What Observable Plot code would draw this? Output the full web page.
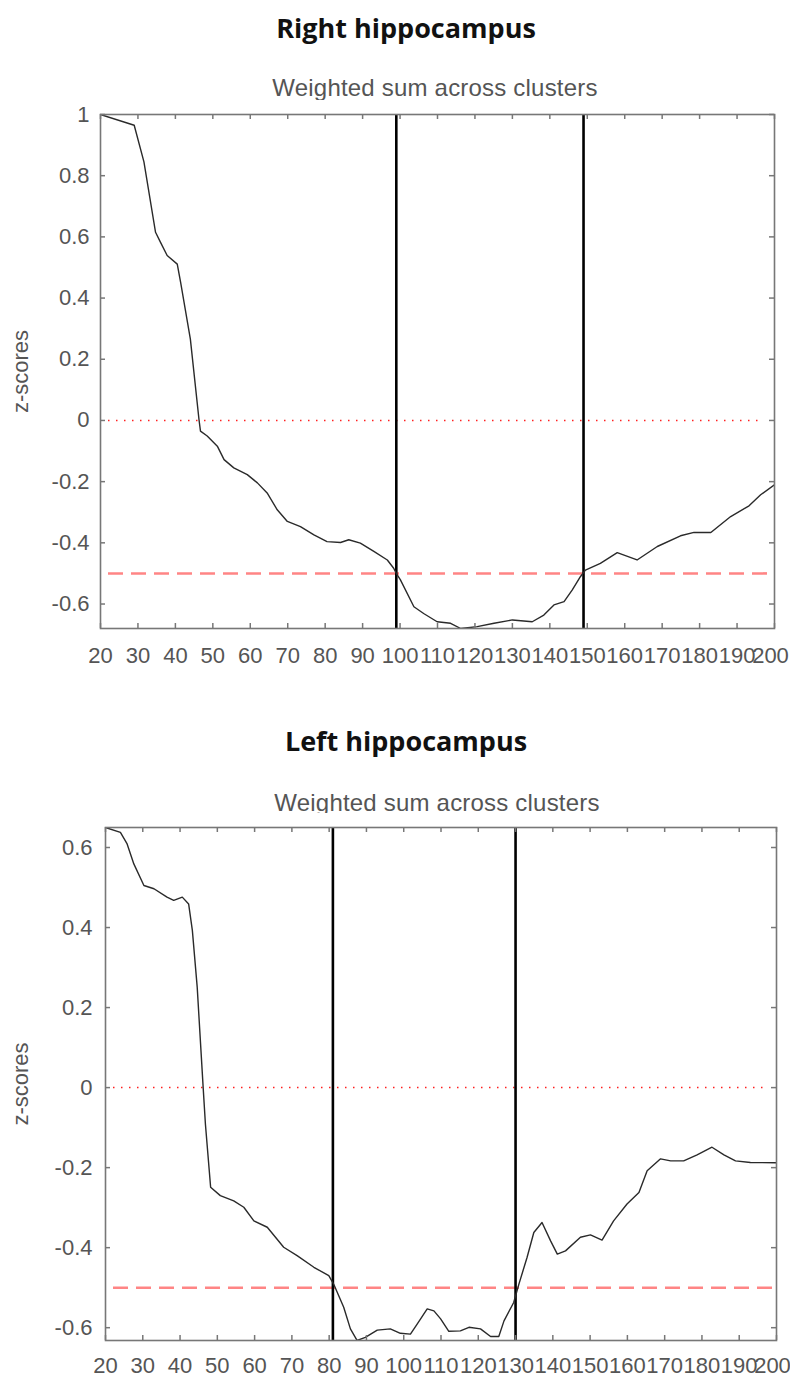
<!DOCTYPE html>
<html>
<head>
<meta charset="utf-8">
<script src="https://cdn.jsdelivr.net/npm/d3@7"></script>
<script src="https://cdn.jsdelivr.net/npm/@observablehq/plot@0.6"></script>
<style>
  html, body { margin: 0; padding: 0; background: #fff; }
  #page { position: relative; width: 790px; height: 1378px; overflow: hidden; }
  .title { position: absolute; transform: translateX(-50%); white-space: nowrap;
           font-family: "Open Sans", sans-serif; font-weight: 700; font-size: 27px; line-height: 27px; color: #111; }
  .subtitle { position: absolute; transform: translateX(-50%); white-space: nowrap;
              font-family: "Liberation Sans", Arial, sans-serif; font-size: 24px; line-height: 24px; color: #555; letter-spacing: 0.2px; }
  .chart { position: absolute; left: 0; }
</style>
</head>
<body>
<div id="page"></div>
<script>
// ---------- data ----------
const titles = ["Right hippocampus", "Left hippocampus"];
const subtitle = "Weighted sum across clusters";
const yLabel = "z-scores";

const xTicks = [20, 30, 40, 50, 60, 70, 80, 90, 100, 110, 120, 130, 140, 150, 160, 170, 180, 190, 200];
const rightYTicks = [-0.6, -0.4, -0.2, 0, 0.2, 0.4, 0.6, 0.8, 1];
const leftYTicks = [-0.6, -0.4, -0.2, 0, 0.2, 0.4, 0.6];

const rightX = [20, 29, 31.6, 34.7, 36, 37.8, 40.5, 41.4, 44, 46.3, 46.7, 48.5, 51.2, 53, 55.6, 59.2, 61.9, 64.5, 67.2, 69.9, 73.4, 77, 80.5, 84.1, 86.3, 89.4, 93, 96.6, 98.3, 99, 100.1, 103.7, 106.3, 109.9, 113.5, 116.2, 120.6, 125.1, 130, 135.3, 138.4, 141.1, 143.8, 146, 148.2, 149.5, 153.5, 158, 163.3, 168.7, 174.9, 178.5, 183, 188.3, 193.2, 196.3, 200];
const rightZ = [1.0, 0.965, 0.845, 0.615, 0.583, 0.539, 0.511, 0.451, 0.266, 0.003, -0.035, -0.051, -0.084, -0.128, -0.155, -0.177, -0.204, -0.237, -0.292, -0.33, -0.347, -0.374, -0.396, -0.399, -0.39, -0.401, -0.428, -0.456, -0.483, -0.5, -0.521, -0.609, -0.631, -0.658, -0.663, -0.68, -0.674, -0.663, -0.652, -0.658, -0.636, -0.603, -0.592, -0.554, -0.51, -0.489, -0.467, -0.432, -0.456, -0.412, -0.377, -0.366, -0.366, -0.314, -0.279, -0.243, -0.21];

const leftX = [20, 24, 25.8, 27.6, 30.3, 33, 36.5, 38.3, 40.6, 42.3, 43.3, 44.6, 46.2, 46.8, 48.2, 50.8, 54.4, 57.1, 59.8, 63.4, 67.8, 71.4, 75.9, 79.9, 81.2, 83.9, 85.7, 87.5, 89.7, 92.9, 96.4, 99.1, 101.8, 103.6, 106.3, 108.1, 109.9, 112.1, 115.2, 117.5, 120.6, 123.3, 125.5, 126.9, 129.5, 130.9, 133.1, 134.9, 137.1, 139.4, 141.2, 143.4, 147.4, 150.1, 153.2, 156.3, 159.9, 163.1, 165.3, 168.9, 171.6, 175.1, 178.7, 182.7, 185.9, 189, 193, 200];
const leftZ = [0.65, 0.638, 0.609, 0.559, 0.505, 0.497, 0.476, 0.468, 0.476, 0.459, 0.393, 0.251, 0, -0.091, -0.249, -0.27, -0.283, -0.299, -0.333, -0.349, -0.399, -0.42, -0.449, -0.47, -0.491, -0.549, -0.603, -0.632, -0.624, -0.606, -0.603, -0.614, -0.616, -0.591, -0.553, -0.558, -0.578, -0.609, -0.608, -0.599, -0.603, -0.622, -0.622, -0.583, -0.537, -0.491, -0.424, -0.362, -0.337, -0.383, -0.416, -0.408, -0.374, -0.368, -0.381, -0.333, -0.291, -0.262, -0.208, -0.178, -0.183, -0.183, -0.168, -0.149, -0.168, -0.183, -0.187, -0.188];

const rightBounds = [99, 149];
const leftBounds = [81, 130];
const zeroLine = [0];
const threshold = [-0.5];
const xDomain = [20, 200];
const rightYDomain = [-0.68, 1];
const leftYDomain = [-0.632, 0.65];

// ---------- drawing ----------
const page = document.getElementById("page");
const frameGray = "#777";
const labelGray = "#555";
const fmt = d => String(d); // ASCII hyphen, "0" and "1" as in the original

function addText(cls, text, cx, cy, size) {
  const d = document.createElement("div");
  d.className = cls;
  d.textContent = text;
  d.style.left = cx + "px";
  d.style.top = (cy - size / 2) + "px";
  page.appendChild(d);
}

function panel({top, height, mL, mR, mT, mB, xs, zs, yDomain, yTicks, bounds, yTickPad, labelOffset, xTickPad}) {
  const width = 790;
  const fw = width - mL - mR;
  const fh = height - mT - mB;
  const data = xs.map((x, i) => ({x, z: zs[i]}));
  const xMain = xTicks.slice(0, -1);
  const xLast = xTicks.slice(-1);
  const p = Plot.plot({
    width, height,
    marginLeft: mL, marginRight: mR, marginTop: mT, marginBottom: mB,
    style: {fontFamily: "'Liberation Sans', Arial, sans-serif", fontSize: "22px", background: "white", overflow: "visible"},
    x: {domain: xDomain, ticks: xTicks, label: null},
    y: {domain: yDomain, ticks: yTicks, label: null},
    marks: [
      Plot.ruleY(zeroLine, {y: d => d, stroke: "#ff2020", strokeWidth: 1.5, strokeDasharray: "1.5,6.5", insetLeft: 8, insetRight: 10}),
      Plot.ruleY(threshold, {y: d => d, stroke: "#ff8585", strokeWidth: 2.6, strokeDasharray: "15,8", insetLeft: 8}),
      Plot.ruleX(bounds, {x: d => d, stroke: "#000", strokeWidth: 2.6}),
      Plot.line(data, {x: "x", y: "z", stroke: "#2a2a2a", strokeWidth: 1.4, clip: true}),
      // inward ticks on all four sides
      Plot.tickX(xTicks, {x: d => d, stroke: frameGray, strokeWidth: 1.5, insetTop: fh - 5}),
      Plot.tickX(xTicks, {x: d => d, stroke: frameGray, strokeWidth: 1.5, insetBottom: fh - 5}),
      Plot.tickY(yTicks, {y: d => d, stroke: frameGray, strokeWidth: 1.5, insetRight: fw - 5}),
      Plot.tickY(yTicks, {y: d => d, stroke: frameGray, strokeWidth: 1.5, insetLeft: fw - 5}),
      Plot.axisX(xMain, {anchor: "bottom", tickSize: 0, tickPadding: xTickPad, fill: labelGray, label: null, tickFormat: fmt}),
      Plot.axisX(xLast, {anchor: "bottom", tickSize: 0, tickPadding: xTickPad, fill: labelGray, label: null, tickFormat: fmt, dx: -4}),
      Plot.axisY(yTicks, {anchor: "left", tickSize: 0, tickPadding: yTickPad, fill: labelGray, tickFormat: fmt,
        label: yLabel, labelAnchor: "center", labelArrow: "none", labelOffset}),
      Plot.frame({stroke: frameGray, strokeWidth: 1.6})
    ]
  });
  p.classList.add("chart");
  p.style.top = top + "px";
  page.appendChild(p);
}

// Right hippocampus
addText("title", titles[0], 406, 27, 27);
addText("subtitle", subtitle, 435, 88, 24);
panel({top: 100, height: 580, mL: 100, mR: 16, mT: 14, mB: 52,
  xs: rightX, zs: rightZ, yDomain: rightYDomain, yTicks: rightYTicks, bounds: rightBounds,
  yTickPad: 11, labelOffset: 88, xTickPad: 19});

// Left hippocampus
addText("title", titles[1], 406, 740, 27);
addText("subtitle", subtitle, 437, 803, 24);
panel({top: 813, height: 565, mL: 105, mR: 14, mT: 14, mB: 38,
  xs: leftX, zs: leftZ, yDomain: leftYDomain, yTicks: leftYTicks, bounds: leftBounds,
  yTickPad: 13, labelOffset: 93, xTickPad: 17});
</script>
</body>
</html>
